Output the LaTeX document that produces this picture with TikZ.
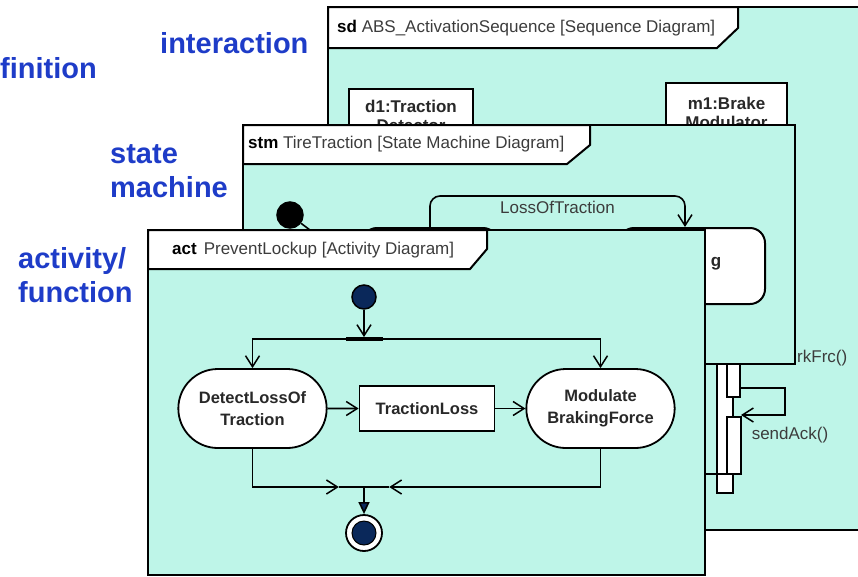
\documentclass[tikz,border=0pt]{standalone}
\usepackage{fontspec}
\setmainfont{Liberation Sans}
\usepackage{tikz}
\usetikzlibrary{arrows.meta, positioning, shapes.misc, calc}

\begin{document}
\begin{tikzpicture}[x=1pt, y=-1pt,
    diagframe/.style={draw=black, line width=2.6pt, fill=framefill},
    tab/.style={draw=black, line width=2pt, fill=white},
    tabtitle/.style={anchor=west, inner sep=0pt, text=titlegray, font=\fontsize{17}{20}\selectfont},
    viewlbl/.style={anchor=base west, inner sep=0pt, text=viewblue, align=left, font=\fontsize{29}{34}\selectfont\bfseries},
    lifeline/.style={draw=black, line width=2pt, fill=white, anchor=north, align=center, inner xsep=4pt, text=nodegray, font=\fontsize{17}{19}\selectfont\bfseries},
    bar/.style={draw=black, line width=1.6pt, fill=white},
    stbox/.style={draw=black, line width=2pt, fill=white, rounded corners=15pt},
    action/.style={rounded rectangle, draw=black, line width=1.8pt, fill=white, minimum width=155, minimum height=79, align=center, text=nodegray, font=\fontsize{16.5}{22}\selectfont\bfseries},
    objbox/.style={draw=black, line width=1.8pt, fill=white, minimum width=135, minimum height=45, text=nodegray, font=\fontsize{16.5}{20}\selectfont\bfseries},
    initdot/.style={circle, draw=black, line width=1.5pt, inner sep=0pt},
    forkbar/.style={rectangle, fill=black, inner sep=0pt},
    msgtext/.style={inner sep=1pt, text=titlegray, font=\fontsize{17}{20}\selectfont},
    flow/.style={line width=1.6pt, -{Straight Barb[length=11pt, width=14pt, line width=1.5pt]}},
    flowfill/.style={line width=1.6pt, -{Triangle[length=12pt, width=11pt, fill=actnavy]}}
]
% Define colors
\definecolor{framefill}{RGB}{190, 245, 232}
\definecolor{viewblue}{RGB}{30, 60, 200}
\definecolor{actnavy}{RGB}{10, 40, 90}
\definecolor{titlegray}{RGB}{60, 60, 60}
\definecolor{nodegray}{RGB}{40, 40, 40}

\useasboundingbox (0,0) rectangle (858,576);

% View labels
\node[viewlbl] (lblinteraction) at (160,53) {interaction};
\node[viewlbl] (lbldefinition) at (0,78) {finition};
\node[viewlbl] (lblstm) at (110,197) {state\\machine};
\node[viewlbl] (lblact) at (18,302) {activity/\\function};

% Sequence diagram
\draw[diagframe] (328,7) rectangle (880,530);
\draw[tab] (328,7) -- (738,7) -- (738,28) -- (717,48) -- (328,48) -- cycle;
\node[tabtitle] (sdtitle) at (337,28) {{\color{black}\bfseries sd} ABS\_ActivationSequence [Sequence Diagram]};
\node[lifeline, minimum width=124, inner ysep=11pt] (d1) at (411,88) {d1:Traction\\Detector};
\node[lifeline, minimum width=121, inner ysep=14pt] (m1) at (726.5,82) {m1:Brake\\Modulator};

% Activation bars and messages
\draw[bar] (717,340) rectangle (733,493);
\draw[bar] (727,340) rectangle (740,397);
\draw[bar] (727,417) rectangle (741,474);
\coordinate (selfout) at (740,388);
\coordinate (selfin) at (741,415);
\draw[flow] (selfout) -- ++(45,0) |- (selfin);
\node[msgtext] (sendack) at (790,435) {sendAck()};
\node[msgtext, anchor=west] (brkfrc) at (796,358) {rkFrc()};
\coordinate (retfrom) at (690,474);
\coordinate (retto) at (727,474);
\draw[line width=1.6pt] (retfrom) -- (retto);

% State machine diagram
\draw[diagframe] (243,125) rectangle (795,364);
\draw[tab] (243,125) -- (590,125) -- (590,145) -- (567,164) -- (243,164) -- cycle;
\node[tabtitle] (stmtitle) at (248,144) {{\color{black}\bfseries stm} TireTraction [State Machine Diagram]};
\node[initdot, fill=black, minimum size=26] (stminit) at (290,215) {};
\coordinate (stmentry) at (330,245);
\draw[line width=1.6pt] (stminit) -- (stmentry);
\node[stbox, minimum width=136, minimum height=76] (s1) at (430,266) {};
\node[stbox, minimum width=146, minimum height=76] (s2) at (692,266) {};
\node[text=nodegray, font=\fontsize{17}{20}\selectfont\bfseries] (s2name) at (716,264) {g};
\draw[flow, rounded corners=10pt] (s1.north) -- ++(0,-31) -| node[pos=0.25, below=3pt, msgtext] {LossOfTraction} ([xshift=-7pt]s2.north);

% Activity diagram
\draw[diagframe] (148,230) rectangle (705,575);
\draw[tab] (148,230) -- (487,230) -- (487,249) -- (470,269) -- (148,269) -- cycle;
\node[tabtitle] (acttitle) at (172,250) {{\color{black}\bfseries act}\hspace{7pt}PreventLockup [Activity Diagram]};

\node[initdot, fill=actnavy, minimum size=24] (actinit) at (364,297) {};
\node[forkbar, minimum width=37, minimum height=3.5] (fork) at (364,339) {};
\node[action] (detect) at (252.5,408.5) {DetectLossOf\\Traction};
\node[objbox] (tloss) at (427,408.5) {TractionLoss};
\node[action] (modulate) at (600.5,408.5) {Modulate\\BrakingForce};
\node[forkbar, minimum width=50, minimum height=2.5] (join) at (364,487) {};
\node[initdot, fill=white, line width=1.8pt, minimum size=36,
      path picture={\filldraw[fill=actnavy, draw=black, line width=1pt] (path picture bounding box.center) circle (12pt);}] (actfinal) at (364,533) {};

% Arrows
\draw[flow] (actinit) -- (fork);
\draw[flow] (fork.center) -| (detect.north);
\draw[flow] (fork.center) -| (modulate.north);
\draw[flow] (detect) -- (tloss);
\draw[flow] (tloss) -- (modulate);
\draw[flow] (detect.south) |- (join.west);
\draw[flow] (modulate.south) |- (join.east);
\draw[flowfill] (join) -- (actfinal);
\end{tikzpicture}
\end{document}
